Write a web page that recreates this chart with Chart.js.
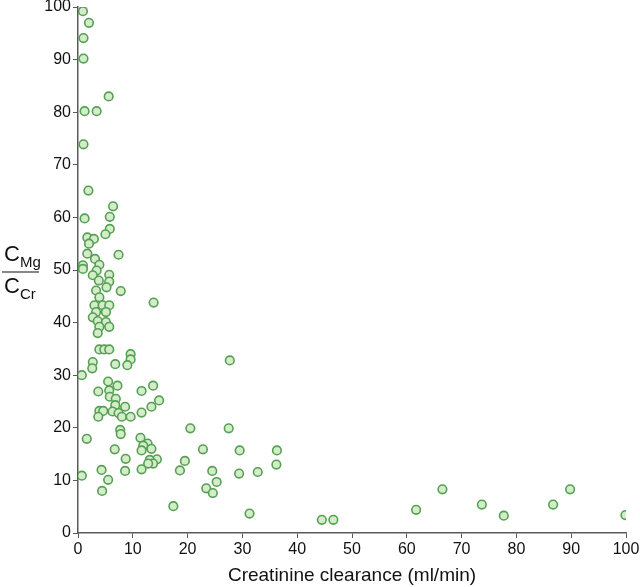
<!DOCTYPE html>
<html lang="en">
<head>
    <meta charset="UTF-8">
    <title>Magnesium / creatinine clearance</title>
    <script src="https://cdn.jsdelivr.net/npm/chart.js"></script>
    <style>
        body {
            margin: 0;
            background: #fff;
        }
        .wrap {
            width: 640px;
            height: 587px;
        }
    </style>
</head>
<body>
    <div class="wrap">
        <canvas id="scatter" width="640" height="587"></canvas>
    </div>
    <script>
        // creatinine clearance (ml/min)
        const clearance = [
            0.9, 2.0, 1.0, 1.0, 5.6, 1.2, 3.4, 1.0, 1.9, 6.4,
            1.2, 5.8, 5.8, 5.0, 1.7, 2.9, 2.0, 1.7, 7.4, 3.1,
            0.9, 0.9, 3.9, 3.4, 2.7, 5.7, 3.8, 5.7, 5.2, 7.8,
            3.3, 3.9, 13.8, 3.0, 4.5, 5.7, 3.3, 5.1, 2.7, 3.6,
            5.1, 3.9, 5.7, 3.6, 3.9, 4.8, 5.7, 9.6, 9.6, 2.7,
            2.6, 6.8, 9.0, 0.7, 5.5, 7.2, 13.7, 3.7, 5.7, 11.6,
            5.8, 6.9, 14.8, 6.8, 13.4, 8.6, 3.9, 4.6, 6.3, 7.4,
            11.6, 3.7, 8.0, 9.6, 1.6, 7.7, 7.8, 11.4, 12.7, 11.9,
            13.4, 11.6, 6.7, 8.7, 14.4, 13.1, 13.7, 12.8, 4.3, 8.6,
            11.6, 0.7, 5.5, 4.4, 17.4, 27.7, 20.5, 27.5, 22.8, 29.5,
            36.3, 19.5, 36.2, 18.6, 24.5, 32.8, 29.4, 25.3, 23.4, 24.6,
            31.3, 44.5, 46.6, 61.7, 66.5, 73.7, 77.7, 86.7, 89.8, 99.9
        ];
        // C_Mg / C_Cr ratio
        const ratio = [
            99.2, 97.0, 94.1, 90.2, 83.0, 80.2, 80.2, 73.9, 65.1, 62.1,
            59.8, 60.1, 57.8, 56.8, 56.2, 55.9, 55.0, 53.1, 52.9, 52.1,
            50.9, 50.2, 51.0, 49.9, 49.0, 49.1, 48.0, 47.8, 46.7, 46.0,
            46.1, 44.8, 43.8, 43.3, 43.3, 43.3, 42.0, 42.0, 41.0, 40.3,
            40.1, 39.2, 39.2, 38.0, 34.9, 34.9, 34.9, 34.0, 33.0, 32.5,
            31.3, 32.1, 31.9, 30.0, 28.8, 28.0, 28.0, 26.9, 27.1, 27.0,
            25.9, 25.5, 25.2, 24.3, 24.0, 24.0, 23.2, 23.2, 23.1, 22.8,
            22.9, 22.1, 22.1, 22.1, 17.9, 19.6, 18.8, 18.1, 17.0, 16.6,
            16.0, 15.7, 15.9, 14.1, 14.0, 13.9, 13.2, 13.2, 12.0, 11.8,
            12.1, 10.9, 10.1, 8.0, 5.1, 32.8, 19.9, 19.9, 15.9, 15.7,
            15.7, 13.7, 13.0, 11.9, 11.8, 11.6, 11.3, 9.7, 8.5, 7.6,
            3.7, 2.5, 2.5, 4.4, 8.3, 5.4, 3.3, 5.4, 8.3, 3.4
        ];
        const xTicks = [0, 10, 20, 30, 40, 50, 60, 70, 80, 90, 100];
        const yTicks = [0, 10, 20, 30, 40, 50, 60, 70, 80, 90, 100];
        const xTitle = 'Creatinine clearance (ml/min)';

        const points = clearance.map((x, i) => ({ x: x, y: ratio[i] }));
        const axisColor = '#5a5a5a';
        const font = 'Liberation Sans, Arial, sans-serif';

        // titles drawn by hand: the y one is a fraction with subscripts
        const axisTitles = {
            id: 'axisTitles',
            afterDraw(chart) {
                const ctx = chart.ctx;
                const area = chart.chartArea;
                ctx.save();
                ctx.fillStyle = '#111';
                ctx.font = '19px ' + font;
                ctx.textAlign = 'center';
                ctx.textBaseline = 'alphabetic';
                ctx.fillText(xTitle, (area.left + area.right) / 2, 581);

                ctx.textAlign = 'left';
                ctx.font = '22px ' + font;
                ctx.fillText('C', 4, 261);
                ctx.fillText('C', 4, 293);
                ctx.font = '15px ' + font;
                ctx.fillText('Mg', 20, 267);
                ctx.fillText('Cr', 20, 299);
                ctx.strokeStyle = '#111';
                ctx.lineWidth = 1.2;
                ctx.beginPath();
                ctx.moveTo(2, 272);
                ctx.lineTo(39, 272);
                ctx.stroke();
                ctx.restore();
            }
        };

        new Chart(document.getElementById('scatter').getContext('2d'), {
            type: 'scatter',
            data: {
                datasets: [{
                    data: points,
                    backgroundColor: '#d3ecca',
                    borderColor: '#56a052',
                    borderWidth: 1.6,
                    pointRadius: 4.3,
                    pointHoverRadius: 4.3
                }]
            },
            options: {
                responsive: false,
                animation: false,
                layout: { padding: { left: 0, right: 14, top: 7, bottom: 0 } },
                plugins: {
                    legend: { display: false },
                    tooltip: { enabled: false }
                },
                scales: {
                    x: {
                        type: 'linear',
                        min: 0,
                        max: 100,
                        afterBuildTicks: axis => { axis.ticks = xTicks.map(v => ({ value: v })); },
                        afterFit: axis => {
                            axis.height = 54;
                            axis.paddingLeft = 0;
                            axis.paddingRight = 0;
                        },
                        grid: { drawOnChartArea: false, drawTicks: true, tickLength: 5, color: axisColor },
                        border: { color: axisColor, width: 1.5 },
                        ticks: { color: '#111', padding: 2, font: { family: font, size: 16 } }
                    },
                    y: {
                        type: 'linear',
                        min: 0,
                        max: 100,
                        afterBuildTicks: axis => { axis.ticks = yTicks.map(v => ({ value: v })); },
                        afterFit: axis => {
                            axis.width = 78;
                            axis.paddingTop = 0;
                            axis.paddingBottom = 0;
                        },
                        grid: { drawOnChartArea: false, drawTicks: true, tickLength: 5, color: axisColor },
                        border: { color: axisColor, width: 1.5 },
                        ticks: { color: '#111', padding: 2, font: { family: font, size: 16 } }
                    }
                }
            },
            plugins: [axisTitles]
        });
    </script>
</body>
</html>
